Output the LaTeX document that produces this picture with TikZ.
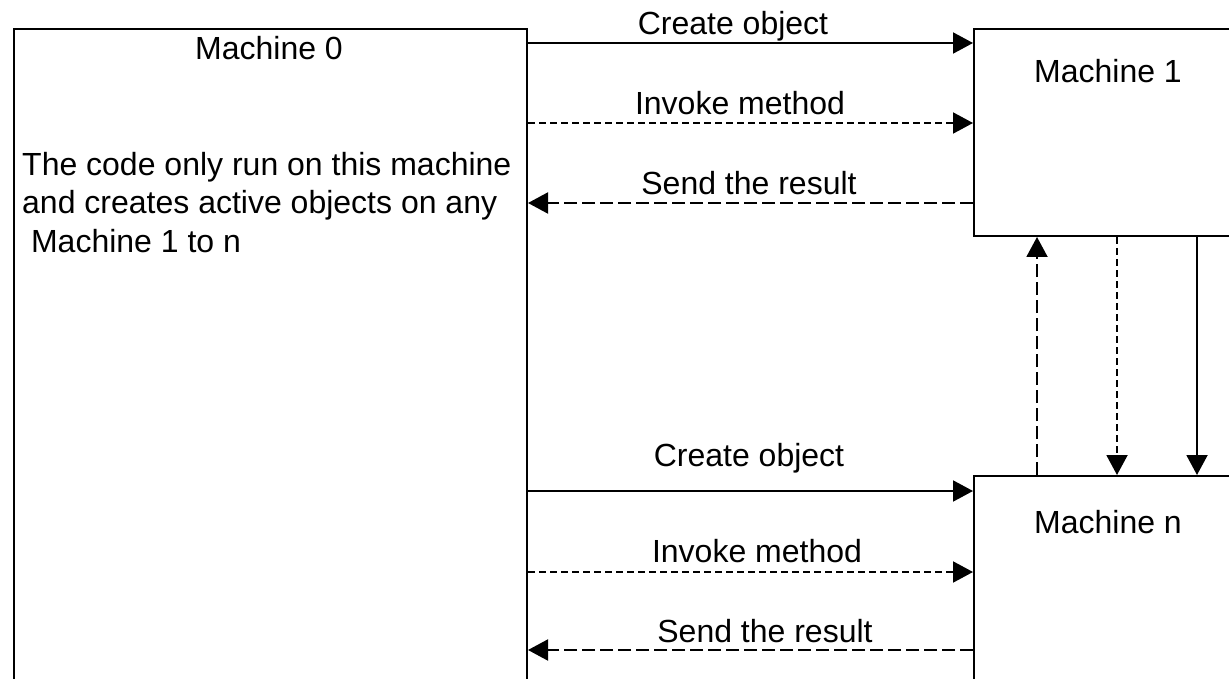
\documentclass[tikz,border=0pt]{standalone}
\usepackage{fontspec}
\setmainfont{Liberation Sans}
\usetikzlibrary{arrows.meta}
\tikzset{
  box/.style={draw=black, line width=2pt, fill=white, inner sep=0pt, anchor=north west},
  lbl/.style={inner sep=0pt, anchor=base, font=\fontsize{32}{38}\selectfont},
  lblw/.style={inner sep=0pt, anchor=base west, font=\fontsize{32}{38}\selectfont},
  conn/.style={line width=2pt, -{Triangle[length=20pt,width=21pt]}},
  shortdash/.style={dash pattern=on 7pt off 4pt},
  longdash/.style={dash pattern=on 13pt off 5pt}
}
\begin{document}
\begin{tikzpicture}[x=1pt,y=-1pt]
\useasboundingbox (0,0) rectangle (1229,679);
\clip (0,0) rectangle (1229,679);
\fill[white] (0,0) rectangle (1229,679);
% boxes
\node[box, minimum width=513pt, minimum height=700pt] (m0) at (13,28) {};
\node[box, minimum width=270pt, minimum height=207pt] (m1) at (973,28) {};
\node[box, minimum width=270pt, minimum height=260pt] (mn) at (973,475) {};
% box texts
\node[lbl] (t0) at (269,60) {Machine 0};
\node[lblw] (b1) at (22,176) {The code only run on this machine};
\node[lblw] (b2) at (22,214) {and creates active objects on any};
\node[lblw] (b3) at (22,252) {\ Machine 1 to n};
\node[lbl] (t1) at (1108,83) {Machine 1};
\node[lbl] (tn) at (1108,533) {Machine n};
% top group
\draw[conn] ([yshift=-15pt]m0.north east) -- ([yshift=-15pt]m1.north west);
\draw[conn, shortdash] ([yshift=-95pt]m0.north east) -- ([yshift=-95pt]m1.north west);
\draw[conn, longdash] ([yshift=-175pt]m1.north west) -- ([yshift=-175pt]m0.north east);
\node[lbl] (l1) at (733,35) {Create object};
\node[lbl] (l2) at (740,115) {Invoke method};
\node[lbl] (l3) at (749,195) {Send the result};
% bottom group
\draw[conn] ([yshift=-463pt]m0.north east) -- ([yshift=-16pt]mn.north west);
\draw[conn, shortdash] ([yshift=-544pt]m0.north east) -- ([yshift=-97pt]mn.north west);
\draw[conn, longdash] ([yshift=-175pt]mn.north west) -- ([yshift=-622pt]m0.north east);
\node[lbl] (l4) at (749,466) {Create object};
\node[lbl] (l5) at (757,562) {Invoke method};
\node[lbl] (l6) at (765,642) {Send the result};
% vertical connectors
\draw[conn, longdash] ([xshift=64pt]mn.north west) -- ([xshift=64pt]m1.south west);
\draw[conn, shortdash] ([xshift=144pt]m1.south west) -- ([xshift=144pt]mn.north west);
\draw[conn] ([xshift=224pt]m1.south west) -- ([xshift=224pt]mn.north west);
\end{tikzpicture}
\end{document}
